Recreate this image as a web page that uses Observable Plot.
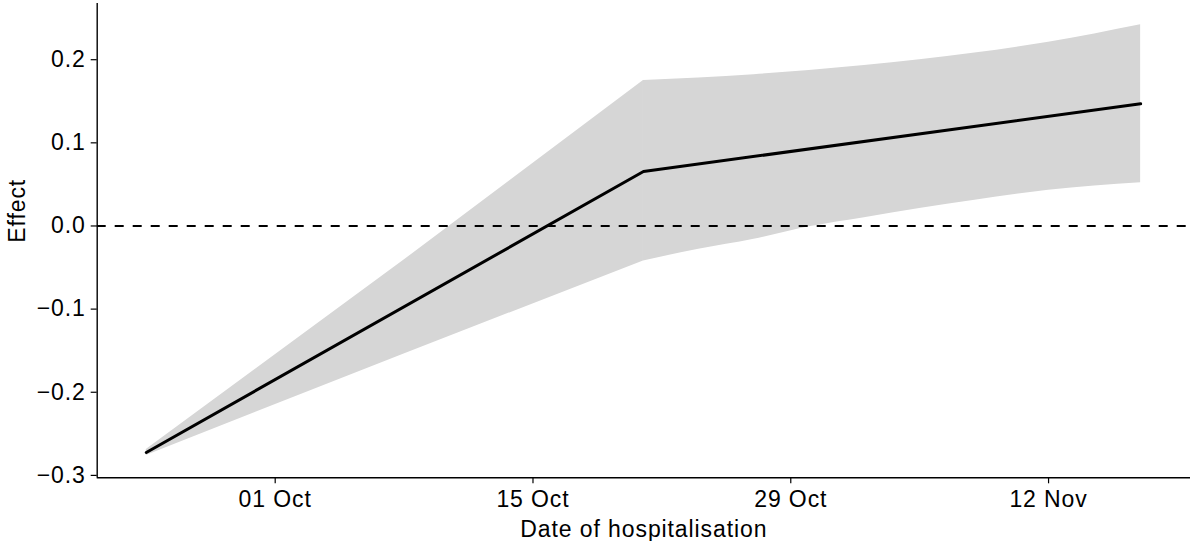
<!DOCTYPE html>
<html><head><meta charset="utf-8">
<script src="https://cdn.jsdelivr.net/npm/d3@7"></script>
<script src="https://cdn.jsdelivr.net/npm/@observablehq/plot@0.6"></script>
<style>body{margin:0;background:#fff;}</style>
</head><body><div id="chart"></div>
<script>
// Central estimate
const lineDates = ["2020-09-24", "2020-10-21", "2020-11-17"];
const lineEffect = [-0.2724, 0.0655, 0.147];
// Confidence band
const ribbonDates = ["2020-09-24", "2020-10-08", "2020-10-21", "2020-10-24", "2020-10-27", "2020-10-30", "2020-11-02", "2020-11-05", "2020-11-08", "2020-11-12", "2020-11-17"];
const ribbonLower = [-0.276, -0.154, -0.042, -0.028, -0.016, -0.001, 0.010, 0.021, 0.031, 0.043, 0.052];
const ribbonUpper = [-0.269, -0.041, 0.175, 0.178, 0.182, 0.187, 0.193, 0.200, 0.208, 0.221, 0.242];
// Axes
const xTickDates = ["2020-10-01", "2020-10-15", "2020-10-29", "2020-11-12"];
const yTicks = [-0.3, -0.2, -0.1, 0, 0.1, 0.2];
const xDomain = [new Date(Date.UTC(2020, 8, 21, 8)), new Date(Date.UTC(2020, 10, 19, 17))];
const yDomain = [-0.3029, 0.2676];
const xTitle = "Date of hospitalisation";
const yTitle = "Effect";

const parse = d3.utcParse("%Y-%m-%d");
const knot = parse(lineDates[1]);
const lineData = lineDates.map((d, i) => ({date: parse(d), effect: lineEffect[i]}));
const ribbonData = ribbonDates.map((d, i) => ({date: parse(d), lo: ribbonLower[i], hi: ribbonUpper[i]}));
const ribbonBefore = ribbonData.filter(d => d.date <= knot);
const ribbonAfter = ribbonData.filter(d => d.date >= knot);

const chart = Plot.plot({
  width: 1191,
  height: 541,
  marginLeft: 96.7,
  marginRight: 1,
  marginTop: 3,
  marginBottom: 63.7,
  style: {fontFamily: "'Liberation Sans', Arial, sans-serif", fontSize: "23px", background: "white", letterSpacing: "0.9px"},
  x: {type: "utc", domain: xDomain},
  y: {domain: yDomain},
  marks: [
    Plot.areaY(ribbonBefore, {x: "date", y1: "lo", y2: "hi", fill: "#d6d6d6"}),
    Plot.areaY(ribbonAfter, {x: "date", y1: "lo", y2: "hi", fill: "#d6d6d6", curve: "monotone-x"}),
    Plot.ruleY([0], {stroke: "#000", strokeWidth: 2, strokeDasharray: "9,9"}),
    Plot.line(lineData, {x: "date", y: "effect", stroke: "#000", strokeWidth: 3}),
    Plot.ruleX([xDomain[0]], {stroke: "#000", strokeWidth: 1.4}),
    Plot.ruleY([yDomain[0]], {stroke: "#000", strokeWidth: 1.4}),
    Plot.axisX(xTickDates.map(parse), {tickFormat: d3.utcFormat("%d %b"), tickSize: 6, tickPadding: 7, label: null, color: "#000", strokeWidth: 1.2}),
    Plot.axisY(yTicks, {tickFormat: d3.format(".1f"), tickSize: 6, tickPadding: 5.5, label: null, color: "#000", strokeWidth: 1.2}),
    Plot.text([xTitle], {frameAnchor: "bottom", lineAnchor: "bottom", dy: 59.4, fill: "#000"}),
    Plot.text([yTitle], {frameAnchor: "left", lineAnchor: "bottom", rotate: -90, dx: -72.7, dy: 2, fill: "#000"})
  ]
});
document.getElementById("chart").appendChild(chart);
</script>
</body></html>
